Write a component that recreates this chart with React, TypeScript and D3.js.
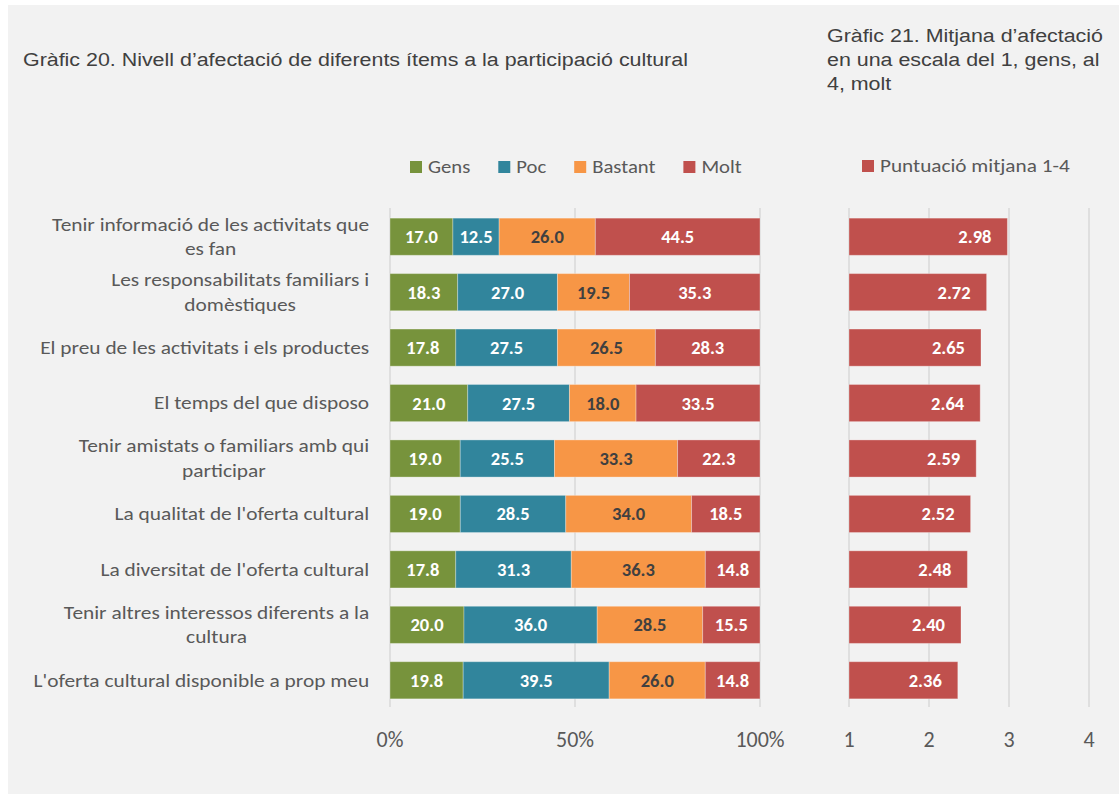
import React, { useEffect, useRef } from "react";
import * as d3 from "d3";

const categories = [
  "Tenir informació de les activitats que\nes fan",
  "Les responsabilitats familiars i\ndomèstiques",
  "El preu de les activitats i els productes",
  "El temps del que disposo",
  "Tenir amistats o familiars amb qui\nparticipar",
  "La qualitat de l'oferta cultural",
  "La diversitat de l'oferta cultural",
  "Tenir altres interessos diferents a la\ncultura",
  "L'oferta cultural disponible a prop meu",
];
const seriesNames = ["Gens", "Poc", "Bastant", "Molt"];
const gens = [17.0, 18.3, 17.8, 21.0, 19.0, 19.0, 17.8, 20.0, 19.8];
const poc = [12.5, 27.0, 27.5, 27.5, 25.5, 28.5, 31.3, 36.0, 39.5];
const bastant = [26.0, 19.5, 26.5, 18.0, 33.3, 34.0, 36.3, 28.5, 26.0];
const molt = [44.5, 35.3, 28.3, 33.5, 22.3, 18.5, 14.8, 15.5, 14.8];
const mitjana = [2.98, 2.72, 2.65, 2.64, 2.59, 2.52, 2.48, 2.4, 2.36];
const pctTicks = [0, 0.5, 1];
const meanTicks = [1, 2, 3, 4];
const title1 = "Gràfic 20. Nivell d’afectació de diferents ítems a la participació cultural";
const title2 = ["Gràfic 21. Mitjana d’afectació", "en una escala del 1, gens, al", "4, molt"];
const legend2 = "Puntuació mitjana 1-4";

const colors = ["#77933c", "#31859c", "#f79646", "#c0504d"];
const labelColors = ["#ffffff", "#ffffff", "#404040", "#ffffff"];
const FONT = "Carlito, Calibri, Lato, sans-serif";
const TFONT = "'Liberation Sans', Arial, sans-serif";

export default function App() {
  const ref = useRef<SVGSVGElement | null>(null);

  useEffect(() => {
    const svg = d3.select(ref.current);
    svg.selectAll("*").remove();
    const W = 1119, H = 794;

    svg.append("rect").attr("width", W).attr("height", H).attr("fill", "#ffffff");
    svg.append("rect").attr("x", 8).attr("y", 5).attr("width", W - 8).attr("height", H - 5).attr("fill", "#f2f2f2");

    const stretched = (parent: any, x: number, y: number, sx: number) =>
      parent.append("text").attr("transform", `translate(${x},${y}) scale(${sx},1)`);

    // titles
    stretched(svg, 23, 66, 1.19).attr("font-family", TFONT).attr("font-size", 18)
      .attr("fill", "#404040").text(title1);
    title2.forEach((t, i) => {
      stretched(svg, 827, 42 + i * 24, 1.19).attr("font-family", TFONT).attr("font-size", 18)
        .attr("fill", "#404040").text(t);
    });

    const data = categories.map((c, i) => ({
      cat: c, Gens: gens[i], Poc: poc[i], Bastant: bastant[i], Molt: molt[i],
    }));

    const y = d3.scaleBand<string>().domain(categories).range([209, 708]).paddingInner(0.33).paddingOuter(0.165);
    const x = d3.scaleLinear().domain([0, 1]).range([390, 760]);
    const x2 = d3.scaleLinear().domain([1, 4]).range([849, 1089]);

    // gridlines
    const gTop = 208, gBot = 707;
    svg.append("g").selectAll("line").data(pctTicks).join("line")
      .attr("x1", (d) => x(d)).attr("x2", (d) => x(d)).attr("y1", gTop).attr("y2", gBot)
      .attr("stroke", "#d9d9d9").attr("stroke-width", 1.5);
    svg.append("g").selectAll("line").data(meanTicks).join("line")
      .attr("x1", (d) => x2(d)).attr("x2", (d) => x2(d)).attr("y1", gTop).attr("y2", gBot)
      .attr("stroke", "#d9d9d9").attr("stroke-width", 1.5);

    // stacked bars
    const stack = d3.stack<any>().keys(seriesNames).offset(d3.stackOffsetExpand);
    const layers = stack(data);
    layers.forEach((layer, si) => {
      const g = svg.append("g");
      g.selectAll("rect").data(layer).join("rect")
        .attr("x", (d) => x(d[0])).attr("width", (d) => x(d[1]) - x(d[0]))
        .attr("y", (d) => y(d.data.cat)!).attr("height", y.bandwidth())
        .attr("fill", colors[si]).attr("stroke", "#ffffff").attr("stroke-opacity", 0.3).attr("stroke-width", 1);
    });
    layers.forEach((layer, si) => {
      svg.append("g").selectAll("text").data(layer).join("text")
        .attr("x", (d) => (x(d[0]) + x(d[1])) / 2)
        .attr("y", (d) => y(d.data.cat)! + y.bandwidth() / 2)
        .attr("dy", "0.35em").attr("text-anchor", "middle")
        .attr("font-family", FONT).attr("font-weight", "bold").attr("font-size", 18.5)
        .attr("fill", labelColors[si])
        .text((d) => (d.data[seriesNames[si]] as number).toFixed(1));
    });

    // mean bars
    const g2 = svg.append("g");
    g2.selectAll("rect").data(mitjana).join("rect")
      .attr("x", x2(1)).attr("width", (d) => x2(d) - x2(1))
      .attr("y", (_d, i) => y(categories[i])!).attr("height", y.bandwidth())
      .attr("fill", colors[3]).attr("stroke", "#ffffff").attr("stroke-opacity", 0.3).attr("stroke-width", 1);
    g2.selectAll("text").data(mitjana).join("text")
      .attr("x", (d) => x2(d) - 16)
      .attr("y", (_d, i) => y(categories[i])! + y.bandwidth() / 2)
      .attr("dy", "0.35em").attr("text-anchor", "end")
      .attr("font-family", FONT).attr("font-weight", "bold").attr("font-size", 18.5)
      .attr("fill", "#ffffff").text((d) => d.toFixed(2));

    // category labels
    const sxCat = 1.2;
    const cg = svg.append("g");
    categories.forEach((c) => {
      const lines = c.split("\n");
      const cy = y(c)! + y.bandwidth() / 2;
      const lh = 24.5;
      const t = cg.append("text").attr("font-family", FONT).attr("font-size", 17.8).attr("fill", "#595959")
        .attr("text-anchor", "middle");
      const spans = lines.map((l, li) =>
        t.append("tspan").attr("x", 0).attr("y", (li - (lines.length - 1) / 2) * lh).attr("dy", "0.35em").text(l)
      );
      const widths = spans.map((s) => (s.node() as SVGTSpanElement).getComputedTextLength() * sxCat);
      const maxW = Math.max(...widths);
      const right = 369;
      const center = right - maxW / 2;
      t.attr("transform", `translate(${center},${cy}) scale(${sxCat},1)`);
    });

    // axis tick labels
    svg.append("g").selectAll("text").data(pctTicks).join("text")
      .attr("x", (d) => x(d)).attr("y", 747).attr("text-anchor", "middle")
      .attr("font-family", FONT).attr("font-size", 22).attr("fill", "#595959")
      .text((d) => d3.format(".0%")(d));
    svg.append("g").selectAll("text").data(meanTicks).join("text")
      .attr("x", (d) => x2(d)).attr("y", 747).attr("text-anchor", "middle")
      .attr("font-family", FONT).attr("font-size", 22).attr("fill", "#595959")
      .text((d) => String(d));

    // legend 1
    const sxLeg = 1.15;
    let lx = 410;
    seriesNames.forEach((n, i) => {
      svg.append("rect").attr("x", lx).attr("y", 161).attr("width", 12).attr("height", 12).attr("fill", colors[i]);
      const t = stretched(svg, lx + 18, 167, sxLeg).attr("dy", "0.35em")
        .attr("font-family", FONT).attr("font-size", 18).attr("fill", "#595959").text(n);
      const w = (t.node() as SVGTextElement).getComputedTextLength() * sxLeg;
      lx = lx + 18 + w + 28;
    });
    // legend 2
    svg.append("rect").attr("x", 862).attr("y", 160).attr("width", 12).attr("height", 12).attr("fill", colors[3]);
    stretched(svg, 880, 166, 1.18).attr("dy", "0.35em")
      .attr("font-family", FONT).attr("font-size", 18).attr("fill", "#595959").text(legend2);
  }, []);

  return (
    <svg ref={ref} width={1119} height={794}
      style={{ position: "absolute", left: 0, top: 0, display: "block" }} />
  );
}
